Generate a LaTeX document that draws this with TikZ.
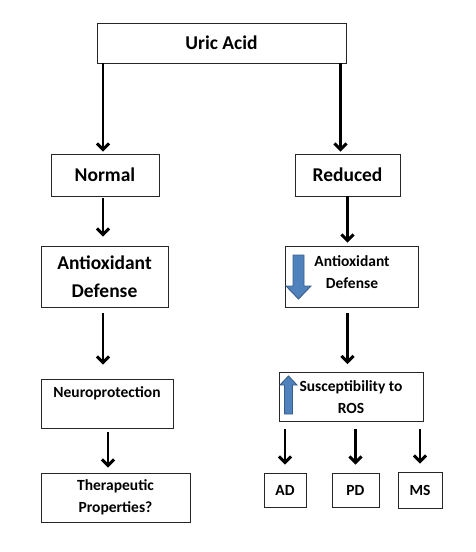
\documentclass[tikz,border=0pt]{standalone}
\usepackage{fontspec}
\setmainfont{Carlito}
\usetikzlibrary{arrows.meta}

\begin{document}
\begin{tikzpicture}[x=1pt, y=-1pt,
    box/.style={draw=black!85, line width=0.9pt, inner sep=0pt, align=center, font=\bfseries\fontsize{19.5}{28}\selectfont},
    smallbox/.style={box, font=\bfseries\fontsize{15.5}{22}\selectfont},
    arr/.style={line width=2.8pt, -{Straight Barb[length=6pt, width=12pt, line width=3pt]}},
    bluearrow/.style={fill={rgb,255:red,79;green,129;blue,189}, draw={rgb,255:red,56;green,93;blue,138}, line width=0.9pt}]
    \useasboundingbox (0,0) rectangle (476,552);
    \node[box, minimum width=249pt, minimum height=40pt] (uric) at (221.5,43) {Uric Acid};
    \node[box, minimum width=108pt, minimum height=42pt] (normal) at (105,175) {Normal};
    \node[box, minimum width=105pt, minimum height=42pt] (reduced) at (347.5,175) {Reduced};
    \node[box, minimum width=127pt, minimum height=61pt] (antiL) at (104.5,276.5) {Antioxidant\\Defense};
    \node[smallbox, minimum width=133pt, minimum height=61pt] (antiR) at (351.5,276.5) {};
    \node[smallbox, draw=none] (antiRtext) at (352,272) {Antioxidant\\Defense};
    \node[smallbox, minimum width=132pt, minimum height=49pt] (neuro) at (107,403.5) {Neuroprotection\\\mbox{}};
    \node[smallbox, minimum width=144pt, minimum height=49pt] (suscep) at (351,397) {Susceptibility to\\ROS};
    \node[smallbox, minimum width=149pt, minimum height=49pt] (thera) at (115.5,497.5) {Therapeutic\\Properties?};
    \node[smallbox, minimum width=42pt, minimum height=34pt] (ad) at (285,490) {AD};
    \node[smallbox, minimum width=47pt, minimum height=34pt] (pd) at (355.5,490) {PD};
    \node[smallbox, minimum width=44pt, minimum height=36pt] (ms) at (420,490) {MS};
    \draw[arr, shorten >=2pt] ([xshift=-2pt]uric.south -| normal.north) -- ([xshift=-2pt]normal.north);
    \draw[arr, shorten >=2pt] ([xshift=-7pt]uric.south -| reduced.north) -- ([xshift=-7pt]reduced.north);
    \draw[arr, shorten <=2pt, shorten >=9pt] ([xshift=-2pt]normal.south) -- ([xshift=-2pt]normal.south |- antiL.north);
    \draw[arr, shorten >=3pt] (reduced.south) -- (reduced.south |- antiR.north);
    \draw[arr, shorten <=6pt, shorten >=14pt] ([xshift=-1.5pt]antiL.south) -- ([xshift=-1.5pt]antiL.south |- neuro.north);
    \draw[arr, shorten <=6pt, shorten >=8pt] (antiR.south -| reduced) -- (suscep.north -| reduced);
    \draw[arr, shorten <=4pt, shorten >=5pt] ([xshift=1pt]neuro.south) -- ([xshift=1pt]neuro.south |- thera.north);
    \draw[arr, shorten <=7pt, shorten >=8pt] (suscep.south -| ad.north) -- (ad.north);
    \draw[arr, shorten <=7pt, shorten >=8pt] (suscep.south -| pd.north) -- (pd.north);
    \draw[arr, shorten <=7pt, shorten >=8pt] (suscep.south -| ms.north) -- (ms.north);
    \draw[bluearrow] (293,255) -- (304,255) -- (304,286) -- (311,286) -- (298.5,299) -- (286,286) -- (293,286) -- cycle;
    \draw[bluearrow] (288.5,376) -- (297,385) -- (292.5,385) -- (292.5,414) -- (284.5,414) -- (284.5,385) -- (280,385) -- cycle;
\end{tikzpicture}
\end{document}
